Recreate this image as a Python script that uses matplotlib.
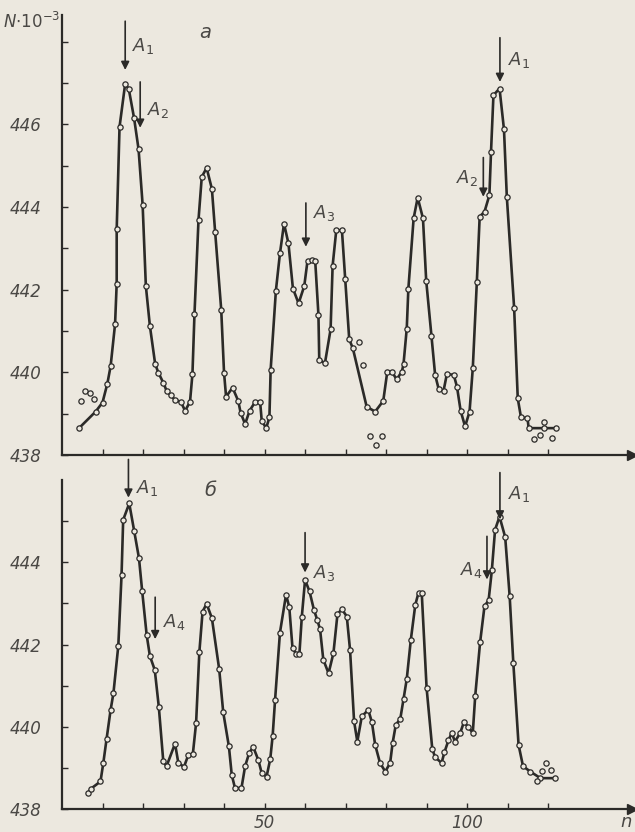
import matplotlib
matplotlib.use("Agg")
import matplotlib.pyplot as plt
import numpy as np

# ---- data: panel a ----
a_n = [4.2, 8.3, 10.0, 11.2, 12.0, 13.1, 13.5, 13.5, 14.2, 15.6, 16.5, 17.8, 18.9, 19.9, 20.7,
       21.7, 23.0, 23.8, 25.0, 25.8, 26.8, 27.9, 29.3, 30.4, 31.6, 32.2, 32.7, 33.7, 34.5, 35.7,
       37.0, 37.8, 39.3, 40.0, 40.5, 42.1, 43.5, 44.1, 45.2, 46.3, 47.7, 48.9, 49.3, 50.4, 51.2,
       51.5, 52.8, 53.8, 54.8, 55.9, 57.0, 58.4, 59.8, 60.6, 61.6, 62.5, 63.3, 63.5, 64.9, 66.3,
       66.8, 67.7, 69.1, 69.9, 70.9, 71.8, 75.2, 77.3, 79.3, 80.3, 81.4, 82.6, 83.9, 84.3, 85.1,
       85.5, 86.8, 87.8, 89.1, 89.9, 91.2, 92.1, 93.0, 94.2, 95.0, 96.7, 97.5, 98.4, 99.5, 100.6,
       101.4, 102.4, 103.1, 104.3, 105.5, 105.9, 106.5, 108.0, 109.1, 109.8, 111.6, 112.5, 113.3,
       114.9, 115.2, 119.0, 121.9]
a_N = [438.65, 439.05, 439.27, 439.73, 440.15, 441.17, 442.15, 443.46, 445.94, 446.99, 446.85,
       446.15, 445.40, 444.06, 442.09, 441.12, 440.20, 439.99, 439.75, 439.56, 439.45, 439.33,
       439.29, 439.07, 439.29, 439.96, 441.41, 443.70, 444.73, 444.95, 444.44, 443.40, 441.52,
       439.99, 439.41, 439.63, 439.31, 439.02, 438.75, 439.07, 439.29, 439.29, 438.83, 438.65,
       438.91, 440.06, 441.98, 442.88, 443.60, 443.12, 442.03, 441.67, 442.09, 442.70, 442.72,
       442.70, 441.39, 440.31, 440.22, 441.04, 442.58, 443.44, 443.44, 442.27, 440.80, 440.58,
       439.17, 439.05, 439.31, 440.02, 440.02, 439.83, 440.02, 440.20, 441.06, 442.03, 443.73,
       444.23, 443.73, 442.22, 440.88, 439.94, 439.59, 439.56, 439.96, 439.94, 439.65, 439.07,
       438.69, 439.05, 440.10, 442.19, 443.77, 443.89, 444.29, 445.34, 446.71, 446.87, 445.88,
       444.25, 441.57, 439.37, 438.91, 438.89, 438.65, 438.65, 438.65]
a_out_n = [4.6, 5.7, 6.9, 8.0, 73.2, 74.4, 76.0, 77.6, 79.0, 116.4, 117.9, 119.0, 121.0]
a_out_N = [439.31, 439.55, 439.51, 439.36, 440.74, 440.18, 438.46, 438.24, 438.46, 438.38,
           438.48, 438.81, 438.40]

# ---- data: panel б ----
b_n = [6.5, 7.1, 9.5, 10.2, 11.0, 12.0, 12.7, 13.9, 14.7, 15.1, 16.6, 17.8, 19.0, 19.8, 20.9,
       21.7, 22.9, 23.9, 25.0, 25.8, 27.9, 28.7, 30.1, 31.2, 32.3, 33.1, 33.9, 34.7, 35.7, 37.0,
       38.8, 39.8, 41.2, 41.9, 42.7, 44.3, 45.2, 46.2, 47.2, 48.5, 49.3, 50.5, 51.4, 52.0, 52.6,
       53.8, 55.3, 56.1, 56.9, 57.8, 58.6, 59.2, 60.0, 61.1, 62.2, 63.0, 63.7, 64.5, 65.8, 67.0,
       68.0, 69.1, 70.3, 71.1, 72.1, 72.9, 74.0, 75.6, 76.5, 77.3, 78.5, 79.8, 81.0, 81.6, 82.4,
       83.5, 84.3, 85.1, 86.1, 87.2, 88.0, 88.8, 90.0, 91.4, 92.1, 93.7, 94.4, 95.4, 96.2, 97.0,
       98.3, 99.2, 100.3, 101.4, 102.0, 103.2, 104.3, 105.3, 106.1, 106.9, 108.0, 109.4, 110.5,
       111.4, 112.7, 113.8, 115.6, 118.1, 121.7]
b_N = [438.40, 438.49, 438.67, 439.12, 439.70, 440.41, 440.82, 441.97, 443.69, 445.03, 445.43,
       444.77, 444.10, 443.29, 442.23, 441.72, 441.38, 440.48, 439.16, 439.04, 439.59, 439.13,
       439.02, 439.32, 439.34, 440.09, 441.81, 442.80, 442.99, 442.64, 441.40, 440.35, 439.52,
       438.83, 438.51, 438.51, 439.04, 439.36, 439.51, 439.18, 438.87, 438.79, 439.21, 439.78,
       440.66, 442.29, 443.21, 442.91, 441.91, 441.77, 441.77, 442.68, 443.57, 443.29, 442.84,
       442.60, 442.37, 441.63, 441.30, 441.79, 442.74, 442.86, 442.68, 441.87, 440.13, 439.64,
       440.25, 440.41, 440.11, 439.56, 439.12, 438.91, 439.12, 439.60, 440.05, 440.19, 440.67,
       441.16, 442.11, 442.96, 443.26, 443.25, 440.94, 439.46, 439.26, 439.12, 439.38, 439.67,
       439.85, 439.64, 439.85, 440.11, 439.99, 439.85, 440.75, 442.05, 442.94, 443.07, 443.80,
       444.79, 445.11, 444.61, 443.18, 441.56, 439.56, 439.04, 438.91, 438.75, 438.75]
b_out_n = [117.2, 118.4, 119.5, 120.7]
b_out_N = [438.67, 438.92, 439.12, 438.96]

x_minor = [10, 20, 30, 40, 60, 70, 80, 90, 110, 120]
x_major = [50, 100]

BG = "#ece8df"
INK = "#2b2a28"
TXT = "#4a4845"

fig = plt.figure(figsize=(6.35, 8.32), dpi=100, facecolor=BG)
axL = 62 / 635
axW = 570 / 635
axA = fig.add_axes([axL, 1 - 455 / 832, axW, 440 / 832], facecolor=BG)
axB = fig.add_axes([axL, 1 - 809 / 832, axW, 329 / 832], facecolor=BG)

XMAX = 140.7


def style(ax, ylim, yticks, show_xlabels):
    ax.set_xlim(0, XMAX)
    ax.set_ylim(*ylim)
    for s in ("top", "right"):
        ax.spines[s].set_visible(False)
    for s in ("left", "bottom"):
        ax.spines[s].set_color(INK)
        ax.spines[s].set_linewidth(1.6)
    ax.set_xticks(x_major)
    ax.set_xticks(x_minor, minor=True)
    ax.set_yticks(yticks)
    ax.set_yticks(np.arange(ylim[0], ylim[1], 1.0), minor=True)
    ax.tick_params(which="both", direction="in", length=4, width=1, color=INK)
    ax.tick_params(axis="y", which="major", pad=15)
    ax.set_yticklabels([str(int(v)) for v in yticks], fontsize=12, color=TXT,
                       fontstyle="italic")
    if show_xlabels:
        ax.set_xticklabels([str(v) for v in x_major], fontsize=12, color=TXT,
                           fontstyle="italic")
    else:
        ax.set_xticklabels([])
    ax.plot(1, ylim[0], ">", color=INK, markersize=7, transform=ax.get_yaxis_transform(),
            clip_on=False)


style(axA, (438, 448.65), [438, 440, 442, 444, 446], False)
style(axB, (438, 446.0), [438, 440, 442, 444], True)

mk = dict(marker="o", markersize=3.8, mfc=BG, mec=INK, mew=0.9)
axA.plot(a_n, a_N, color=INK, lw=1.9, **mk, clip_on=False)
axA.plot(a_out_n, a_out_N, ls="none", **mk)
axB.plot(b_n, b_N, color=INK, lw=1.9, **mk, clip_on=False)
axB.plot(b_out_n, b_out_N, ls="none", **mk)


def arrow(ax, x, tip, tail, label, lx, ly):
    ax.annotate("", xy=(x, tip), xytext=(x, tail),
                arrowprops=dict(arrowstyle="-|>", color=INK, lw=1.2, mutation_scale=12,
                                shrinkA=0, shrinkB=0), annotation_clip=False)
    ax.text(lx, ly, label, fontsize=13, color=TXT, ha="left", va="center")


arrow(axA, 15.6, 447.32, 448.5, r"$A_1$", 17.3, 447.9)
arrow(axA, 19.3, 445.92, 447.03, r"$A_2$", 21.0, 446.35)
arrow(axA, 60.2, 443.04, 444.1, r"$A_3$", 62.0, 443.85)
arrow(axA, 108.1, 447.03, 448.1, r"$A_1$", 110.0, 447.55)
arrow(axA, 104.0, 444.25, 445.2, r"$A_2$", 97.3, 444.7)

arrow(axB, 16.4, 445.57, 446.5, r"$A_1$", 18.3, 445.8)
arrow(axB, 23.0, 442.13, 443.15, r"$A_4$", 25.0, 442.55)
arrow(axB, 60.0, 443.75, 444.72, r"$A_3$", 62.0, 443.75)
arrow(axB, 108.1, 445.04, 446.18, r"$A_1$", 110.0, 445.65)
arrow(axB, 104.9, 443.58, 444.63, r"$A_4$", 98.3, 443.8)

fig.text(205 / 635, 1 - 33 / 832, "a", fontsize=14, color=TXT, fontstyle="italic",
         ha="center", va="center")
fig.text(210 / 635, 1 - 490 / 832, "б", fontsize=14, color=TXT, fontstyle="italic",
         ha="center", va="center")
fig.text(32 / 635, 1 - 22 / 832, r"$N{\cdot}10^{-3}$", fontsize=12, color=TXT,
         ha="center", va="center")
fig.text(626 / 635, 1 - 822 / 832, "n", fontsize=13, color=TXT, fontstyle="italic",
         ha="center", va="center")

fig.savefig("out.png", dpi=100, facecolor=BG)
